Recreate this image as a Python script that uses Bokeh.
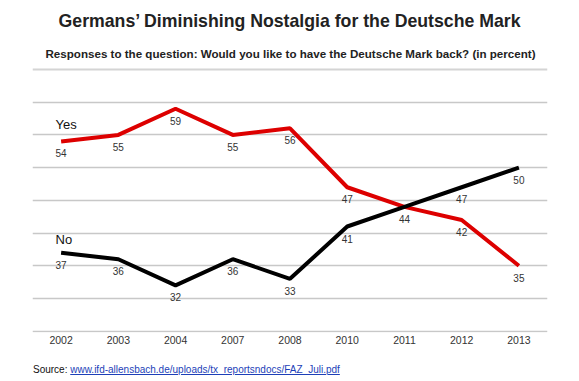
from bokeh.plotting import figure
from bokeh.layouts import column
from bokeh.models import Label, BoxAnnotation, FixedTicker, Range1d, ColumnDataSource, Div
from bokeh.core.properties import value
from bokeh.embed import file_html
from bokeh.resources import INLINE

years = ["2002", "2003", "2004", "2007", "2008", "2010", "2011", "2012", "2013"]
yes_vals = [54, 55, 59, 55, 56, 47, 44, 42, 35]
no_vals = [37, 36, 32, 36, 33, 41, 44, 47, 50]
y_ticks = [25, 30, 35, 40, 45, 50, 55, 60]

title_text = "Germans\u2019 Diminishing Nostalgia for the Deutsche Mark"
subtitle_text = "Responses to the question: Would you like to have the Deutsche Mark back? (in percent)"
source_label = "Source:"
source_url = "www.ifd-allensbach.de/uploads/tx_reportsndocs/FAZ_Juli.pdf"

FONT = "Liberation Sans"
W, H = 579, 356

# frame spans the top of the canvas so header texts can sit inside it
p = figure(x_range=years, y_range=Range1d(24.8, 75.54), width=W, height=H,
           output_backend="svg", toolbar_location=None, y_axis_location=None,
           min_border_left=32, min_border_right=32, min_border_top=0, min_border_bottom=24)
p.outline_line_color = None
p.xgrid.grid_line_color = None
p.ygrid.ticker = FixedTicker(ticks=y_ticks)
p.ygrid.grid_line_color = "#c8c8c8"
p.ygrid.grid_line_width = 1.5

ax = p.xaxis[0]
ax.axis_line_color = None
ax.major_tick_line_color = None
ax.minor_tick_line_color = None
ax.major_tick_out = 0
ax.major_tick_in = 0
ax.major_label_text_font = FONT
ax.major_label_text_font_size = "10.5px"
ax.major_label_text_color = "#333333"
ax.major_label_standoff = 3

src = ColumnDataSource(dict(x=years, yes=yes_vals, no=no_vals,
                            yes_t=[str(v) for v in yes_vals],
                            no_t=[str(n) if n != y else "" for n, y in zip(no_vals, yes_vals)]))

p.line("x", "yes", source=src, line_color="#dd0000", line_width=4)
p.line("x", "no", source=src, line_color="#000000", line_width=4)

for col, val_col in (("yes_t", "yes"), ("no_t", "no")):
    p.text("x", val_col, text=col, source=src, y_offset=12, text_align="center",
           text_baseline="middle", text_font=value(FONT), text_font_size="10px",
           text_color="#333333")

def lab(text, x, y, size, bold=False, color="#222222", align="left"):
    p.add_layout(Label(text=text, x=x, y=y, x_units="canvas", y_units="canvas",
                       text_font=FONT, text_font_size=size,
                       text_font_style="bold" if bold else "normal",
                       text_color=color, text_align=align, text_baseline="middle"))

lab(title_text, 289.5, 20, "17.7px", bold=True, align="center")
lab(subtitle_text, 290, 52.5, "11.6px", bold=True, align="center")
lab("Yes", 55, 124, "13px", color="#111111")
lab("No", 55, 239, "13px", color="#111111")

p.add_layout(BoxAnnotation(left=32, right=547, top=68, bottom=70,
                           left_units="canvas", right_units="canvas",
                           top_units="canvas", bottom_units="canvas",
                           fill_color="#d4d4d4", fill_alpha=1, line_color=None))

source_div = Div(width=W, height=24, text=(
    '<div style="margin:0;padding:2px 0 0 28px;font-family:\'Liberation Sans\';'
    'font-size:10px;line-height:12px;color:#111111;white-space:nowrap">'
    + source_label + ' <a href="http://' + source_url + '" style="color:#1d3fb8;'
    'text-decoration:underline">' + source_url + '</a></div>'))

layout = column(p, source_div, spacing=0)
open("out.html", "w").write(file_html(layout, INLINE))
